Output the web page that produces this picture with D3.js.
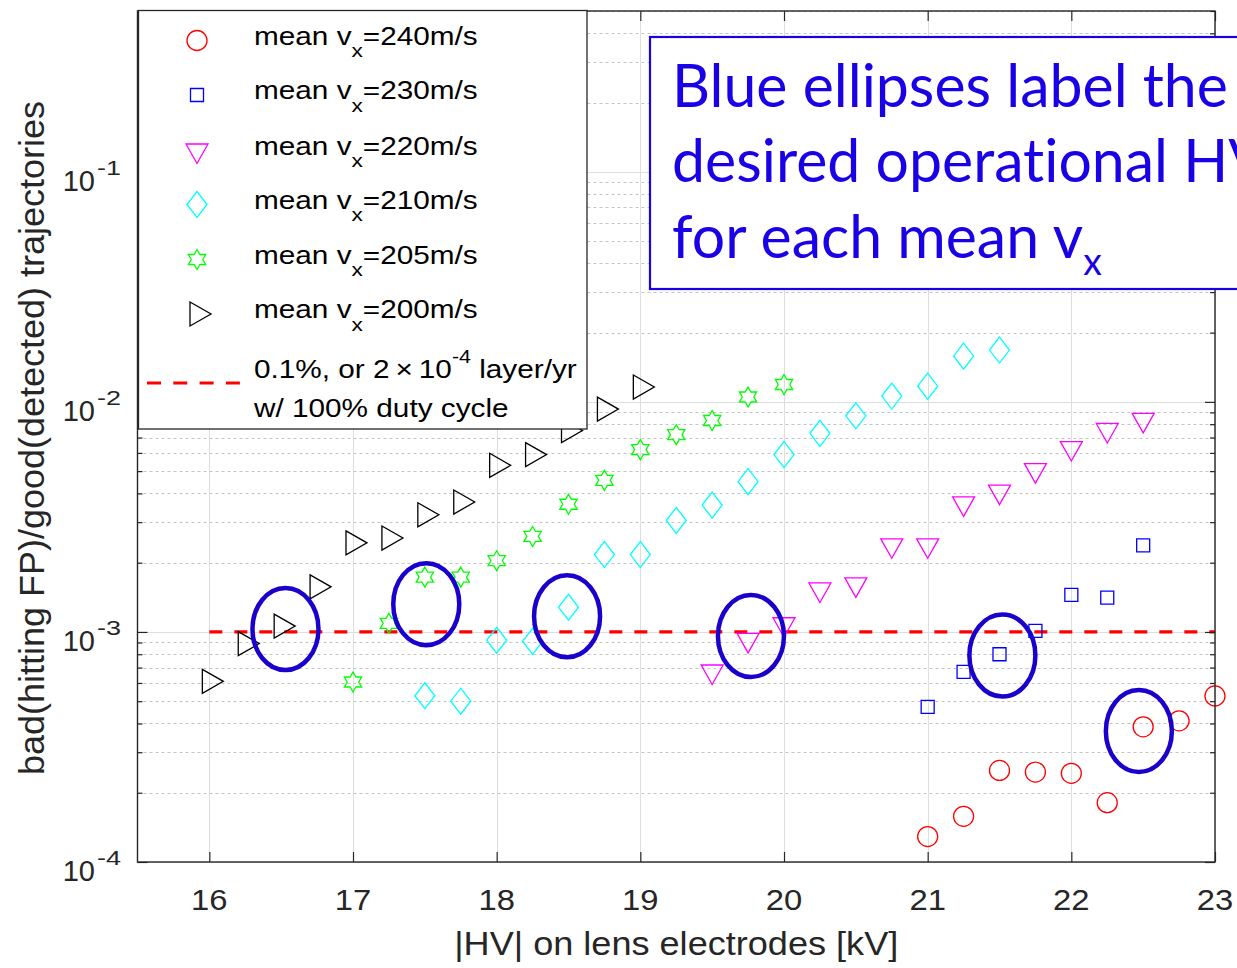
<!DOCTYPE html>
<html><head><meta charset="utf-8">
<script src="https://cdn.jsdelivr.net/npm/d3@7"></script>
<style>body{margin:0;background:#fff;overflow:hidden} svg{display:block}</style>
</head><body><svg id="c" width="1237" height="968"></svg>
<script>
// ---------------- data ----------------
const hvTicks = [16, 17, 18, 19, 20, 21, 22, 23];
const yTickExps = [-4, -3, -2, -1];

const hv240 = [21, 21.25, 21.5, 21.75, 22, 22.25, 22.5, 22.75, 23];
const r240  = [1.29e-4, 1.58e-4, 2.50e-4, 2.46e-4, 2.43e-4, 1.81e-4, 3.87e-4, 4.11e-4, 5.27e-4];

const hv230 = [21, 21.25, 21.5, 21.75, 22, 22.25, 22.5];
const r230  = [4.72e-4, 6.7e-4, 8.0e-4, 1.01e-3, 1.45e-3, 1.41e-3, 2.38e-3];

const hv220 = [19.5, 19.75, 20, 20.25, 20.5, 20.75, 21, 21.25, 21.5, 21.75, 22, 22.25, 22.5];
const r220  = [6.73e-4, 9.24e-4, 1.08e-3, 1.53e-3, 1.61e-3, 2.38e-3, 2.38e-3, 3.62e-3, 4.07e-3, 5.05e-3, 6.3e-3, 7.55e-3, 8.35e-3];

const hv210 = [17.5, 17.75, 18, 18.25, 18.5, 18.75, 19, 19.25, 19.5, 19.75, 20, 20.25, 20.5, 20.75, 21, 21.25, 21.5];
const r210  = [5.28e-4, 5.0e-4, 9.2e-4, 9.1e-4, 1.28e-3, 2.17e-3, 2.17e-3, 3.05e-3, 3.56e-3, 4.5e-3, 5.9e-3, 7.3e-3, 8.7e-3, 1.06e-2, 1.17e-2, 1.58e-2, 1.68e-2];

const hv205 = [17, 17.25, 17.5, 17.75, 18, 18.25, 18.5, 18.75, 19, 19.25, 19.5, 19.75, 20];
const r205  = [6.06e-4, 1.09e-3, 1.73e-3, 1.73e-3, 2.04e-3, 2.6e-3, 3.59e-3, 4.56e-3, 6.2e-3, 7.2e-3, 8.3e-3, 1.05e-2, 1.19e-2];

const hv200 = [16, 16.25, 16.5, 16.75, 17, 17.25, 17.5, 17.75, 18, 18.25, 18.5, 18.75, 19];
const r200  = [6.1e-4, 8.9e-4, 1.06e-3, 1.57e-3, 2.44e-3, 2.56e-3, 3.23e-3, 3.67e-3, 5.3e-3, 5.9e-3, 7.5e-3, 9.3e-3, 1.16e-2];

const thresholdHV = [16, 23];
const thresholdValue = 1e-3;

const ellipseHV = [16.53, 17.51, 18.49, 19.77, 21.52, 22.47];
const ellipseR  = [1.03e-3, 1.32e-3, 1.17e-3, 0.96e-3, 7.9e-4, 3.71e-4];

const seriesNames = ["240", "230", "220", "210", "205", "200"];
const legendLine1 = ["0.1%, or 2\u2009\u00d7\u200910", "-4", " layer/yr"];
const legendLine2 = "w/ 100% duty cycle";
const xLabel = "|HV| on lens electrodes [kV]";
const yLabel = "bad(hitting FP)/good(detected) trajectories";
const noteLines = ["Blue ellipses label the", "desired operational HV", "for each mean v"];

// ---------------- setup ----------------
const svg = d3.select("#c");
const FONT = "'Liberation Sans', Arial, Helvetica, sans-serif";
const AX = "#262626";
const L = 137.5, R = 1215, T = 11, B = 862;
const x = d3.scaleLinear().domain([15.5, 23]).range([L, R]);
const y = d3.scaleLog().domain([1e-4, 0.5]).range([B, T]);

const majorY = yTickExps.map(e => Math.pow(10, e));
const minorY = [];
for (let e = -4; e <= -1; e++) for (let m = 2; m <= 9; m++) { const v = m * Math.pow(10, e); if (v <= 0.5) minorY.push(v); }

svg.append("rect").attr("x", L).attr("y", T).attr("width", R - L).attr("height", B - T).attr("fill", "#fff");

// grid
const grid = svg.append("g");
grid.selectAll(".gx").data(hvTicks).join("line")
  .attr("x1", d => Math.round(x(d)) + 0.5).attr("x2", d => Math.round(x(d)) + 0.5)
  .attr("y1", T).attr("y2", B).attr("stroke", "#dedede").attr("stroke-width", 1);
grid.selectAll(".gym").data(minorY).join("line")
  .attr("x1", L).attr("x2", R)
  .attr("y1", d => Math.round(y(d)) + 0.5).attr("y2", d => Math.round(y(d)) + 0.5)
  .attr("stroke", "#c4c4c4").attr("stroke-width", 1).attr("stroke-dasharray", "3,3");
grid.selectAll(".gy").data(majorY).join("line")
  .attr("x1", L).attr("x2", R)
  .attr("y1", d => Math.round(y(d)) + 0.5).attr("y2", d => Math.round(y(d)) + 0.5)
  .attr("stroke", "#dedede").attr("stroke-width", 1);

// threshold line
svg.append("line")
  .attr("x1", x(thresholdHV[0])).attr("x2", x(thresholdHV[1]))
  .attr("y1", y(thresholdValue)).attr("y2", y(thresholdValue))
  .attr("stroke", "#ff0000").attr("stroke-width", 3.2).attr("stroke-dasharray", "13,12");

// marker shapes
function hexagramPath(Ro) {
  const ri = Ro / Math.sqrt(3); const pts = [];
  for (let i = 0; i < 12; i++) {
    const a = -Math.PI / 2 + i * Math.PI / 6; const rr = i % 2 === 0 ? Ro : ri;
    pts.push([rr * Math.cos(a), rr * Math.sin(a)]);
  }
  return "M" + pts.map(p => p[0].toFixed(2) + "," + p[1].toFixed(2)).join("L") + "Z";
}
const shapes = {
  circle: "M10,0A10,10 0 1,1 -10,0A10,10 0 1,1 10,0Z",
  square: "M-6.5,-6.5H6.5V6.5H-6.5Z",
  down: "M-11,-6.5L11,-6.5L0,13Z",
  diamond: "M0,-13L10,0L0,13L-10,0Z",
  hexagram: hexagramPath(10),
  right: "M-7,-12L14,0L-7,12Z"
};
const series = [
  { hv: hv240, r: r240, color: "#ff0000", shape: "circle" },
  { hv: hv230, r: r230, color: "#0000ff", shape: "square" },
  { hv: hv220, r: r220, color: "#ff00ff", shape: "down" },
  { hv: hv210, r: r210, color: "#00ffff", shape: "diamond" },
  { hv: hv205, r: r205, color: "#00ff00", shape: "hexagram" },
  { hv: hv200, r: r200, color: "#000000", shape: "right" }
];
const marks = svg.append("g");
series.forEach(s => {
  marks.append("g").selectAll("path").data(s.hv.map((h, i) => [h, s.r[i]])).join("path")
    .attr("d", shapes[s.shape])
    .attr("transform", d => `translate(${x(d[0])},${y(d[1])})`)
    .attr("fill", "none").attr("stroke", s.color).attr("stroke-width", 1.3);
});

// axes (ticks inward)
const axG = svg.append("g").attr("color", AX);
function styleAxis(g) { g.selectAll(".domain").remove(); g.selectAll("text").remove(); g.selectAll("line").attr("stroke", AX).attr("stroke-width", 1.2); }
axG.append("g").attr("transform", `translate(0,${B})`).call(d3.axisBottom(x).tickValues(hvTicks).tickSizeInner(-10).tickSizeOuter(0)).call(styleAxis);
axG.append("g").attr("transform", `translate(0,${T})`).call(d3.axisTop(x).tickValues(hvTicks).tickSizeInner(-10).tickSizeOuter(0)).call(styleAxis);
axG.append("g").attr("transform", `translate(${L},0)`).call(d3.axisLeft(y).tickValues(majorY).tickSizeInner(-10).tickSizeOuter(0)).call(styleAxis);
axG.append("g").attr("transform", `translate(${L},0)`).call(d3.axisLeft(y).tickValues(minorY).tickSizeInner(-5).tickSizeOuter(0)).call(styleAxis);
axG.append("g").attr("transform", `translate(${R},0)`).call(d3.axisRight(y).tickValues(majorY).tickSizeInner(-10).tickSizeOuter(0)).call(styleAxis);
axG.append("g").attr("transform", `translate(${R},0)`).call(d3.axisRight(y).tickValues(minorY).tickSizeInner(-5).tickSizeOuter(0)).call(styleAxis);
svg.append("rect").attr("x", L).attr("y", T).attr("width", R - L).attr("height", B - T)
  .attr("fill", "none").attr("stroke", AX).attr("stroke-width", 1.4);

// tick labels (slightly wide, as in the reference)
svg.append("g").selectAll("text").data(hvTicks).join("text")
  .attr("transform", d => `translate(${x(d)},910) scale(1.13,1)`).attr("text-anchor", "middle")
  .attr("font-family", FONT).attr("font-size", 29).attr("fill", AX).text(d => d);
svg.append("g").selectAll("text").data(yTickExps).join("text")
  .attr("x", 95).attr("y", d => y(Math.pow(10, d)) + 19).attr("text-anchor", "end")
  .attr("font-family", FONT).attr("font-size", 29).attr("fill", AX).text("10");
svg.append("g").selectAll("text").data(yTickExps).join("text")
  .attr("x", 97).attr("y", d => y(Math.pow(10, d)) + 3)
  .attr("textLength", 24).attr("lengthAdjust", "spacingAndGlyphs")
  .attr("font-family", FONT).attr("font-size", 20).attr("fill", AX).text(d => String(d));

// axis labels
svg.append("text").attr("x", (L + R) / 2 - 222).attr("y", 955)
  .attr("textLength", 444).attr("lengthAdjust", "spacingAndGlyphs")
  .attr("font-family", FONT).attr("font-size", 33).attr("fill", AX).text(xLabel);
svg.append("text").attr("transform", `translate(44,775) rotate(-90)`)
  .attr("textLength", 674).attr("lengthAdjust", "spacingAndGlyphs")
  .attr("font-family", FONT).attr("font-size", 35).attr("fill", AX).text(yLabel);

// legend
const lg = svg.append("g");
lg.append("rect").attr("x", 138.5).attr("y", 10.5).attr("width", 448.5).attr("height", 418.5)
  .attr("fill", "#fff").attr("stroke", AX).attr("stroke-width", 1.3);
const rowY = [40.5, 95, 150.5, 204.5, 259.5, 314];
series.forEach((s, i) => {
  lg.append("path").attr("d", shapes[s.shape]).attr("transform", `translate(197,${rowY[i]})`)
    .attr("fill", "none").attr("stroke", s.color).attr("stroke-width", 1.3);
});
const lt = lg.append("g").attr("transform", "translate(254,0) scale(1.19,1)");
series.forEach((s, i) => {
  const t = lt.append("text").attr("x", 0).attr("y", rowY[i] + 4.5)
    .attr("font-family", FONT).attr("font-size", 25).attr("fill", "#000");
  t.append("tspan").text("mean v");
  t.append("tspan").attr("font-size", 19).attr("dy", 12.5).text("x");
  t.append("tspan").attr("dy", -12.5).text("=" + seriesNames[i] + "m/s");
});
lg.append("line").attr("x1", 147).attr("x2", 240).attr("y1", 383).attr("y2", 383)
  .attr("stroke", "#ff0000").attr("stroke-width", 3.2).attr("stroke-dasharray", "14,12.3");
const t1 = lt.append("text").attr("x", 0).attr("y", 378).attr("font-family", FONT).attr("font-size", 25).attr("fill", "#000");
t1.append("tspan").text(legendLine1[0]);
t1.append("tspan").attr("font-size", 18).attr("dy", -15).text(legendLine1[1]);
t1.append("tspan").attr("dy", 15).text(legendLine1[2]);
lt.append("text").attr("x", 0).attr("y", 417).attr("font-family", FONT).attr("font-size", 25).attr("fill", "#000").text(legendLine2);

// ellipses
svg.append("g").selectAll("ellipse").data(ellipseHV.map((h, i) => [h, ellipseR[i]])).join("ellipse")
  .attr("cx", d => x(d[0])).attr("cy", d => y(d[1])).attr("rx", 33).attr("ry", 41)
  .attr("fill", "none").attr("stroke", "#1a00cc").attr("stroke-width", 4.5);

// note box
const NB = "#1a00e6";
svg.append("rect").attr("x", 650).attr("y", 37).attr("width", 640).attr("height", 252)
  .attr("fill", "#fff").attr("stroke", NB).attr("stroke-width", 2.2);
const ng = svg.append("g");
const noteY = [107, 182, 258];
const nt = ng.selectAll("text").data(noteLines).join("text")
  .attr("x", 0).attr("y", (d, i) => noteY[i])
  .attr("font-family", "Lato, 'Open Sans', sans-serif").attr("font-size", 60).attr("fill", NB)
  .style("font-variant-ligatures", "none")
  .text(d => d);
nt.filter((d, i) => i === 2).append("tspan").attr("font-size", 38).attr("dy", 17).text("x");
const w0 = nt.nodes()[0].getComputedTextLength();
const sx = 556 / w0;
ng.attr("transform", `translate(672,0) scale(${sx},1)`);
</script></body></html>
